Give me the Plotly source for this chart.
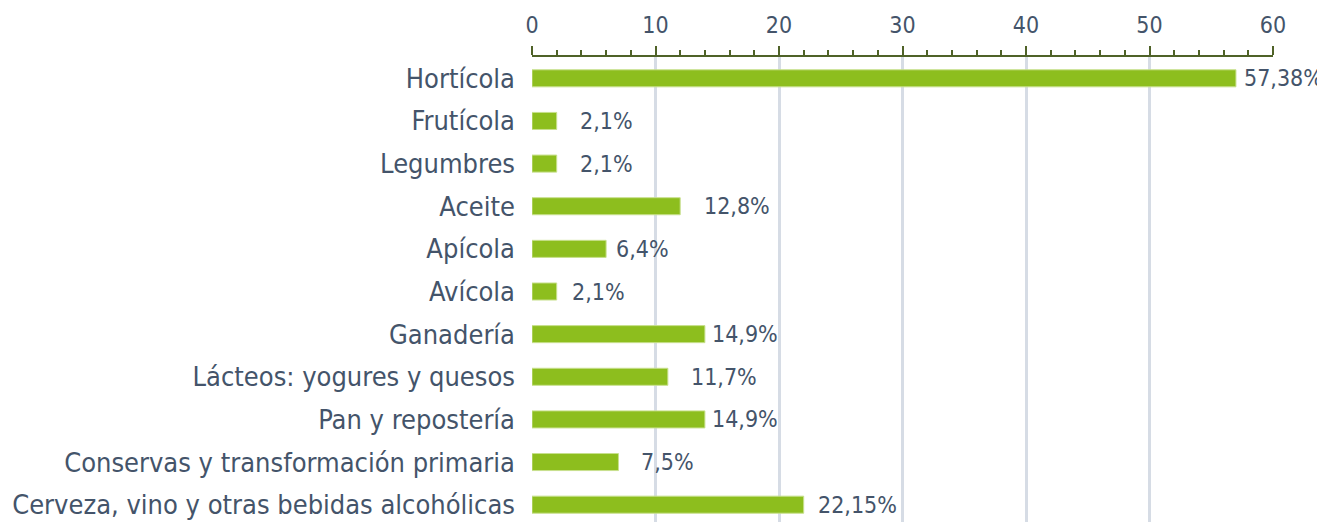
import plotly.graph_objects as go

categories = [
    "Hortícola",
    "Frutícola",
    "Legumbres",
    "Aceite",
    "Apícola",
    "Avícola",
    "Ganadería",
    "Lácteos: yogures y quesos",
    "Pan y repostería",
    "Conservas y transformación primaria",
    "Cerveza, vino y otras bebidas alcohólicas",
]
values = [57, 2, 2, 12, 6, 2, 14, 11, 14, 7, 22]
labels = ["57,38%", "2,1%", "2,1%", "12,8%", "6,4%", "2,1%", "14,9%", "11,7%", "14,9%", "7,5%", "22,15%"]
label_shift = [6, 21, 21, 22, 8, 13, 5, 21, 5, 21, 12]

FONT = "DejaVu Sans Condensed, Liberation Sans Narrow, Roboto, sans-serif"
TEXT = "#44546a"
GREEN = "#8dbe1e"
AXIS = "#4f6228"
GRID = "#d6dce5"

fig = go.Figure()
fig.add_trace(go.Bar(
    x=values, y=categories, orientation="h", width=0.4,
    marker={"color": GREEN, "line": {"color": "#c8e08e", "width": 1}},
    hoverinfo="skip",
))

for cat, val, lab, dx in zip(categories, values, labels, label_shift):
    fig.add_annotation(
        x=val, y=cat, text=lab, showarrow=False, xanchor="left", yanchor="middle",
        xshift=dx, font={"family": FONT, "size": 23, "color": TEXT},
    )

# page body adds an 8px offset, margins account for it
fig.update_layout(
    width=1325, height=522,
    margin={"l": 524, "r": 60, "t": 49, "b": 4, "autoexpand": False},
    paper_bgcolor="white", plot_bgcolor="white",
    showlegend=False,
    font={"family": FONT, "color": TEXT},
)
fig.update_xaxes(
    side="top", range=[0, 60], dtick=10, tick0=0, automargin=False,
    showgrid=True, gridcolor=GRID, gridwidth=3, zeroline=False,
    showline=True, linecolor=AXIS, linewidth=2,
    ticks="outside", ticklen=9, tickwidth=2, tickcolor=AXIS,
    minor={"dtick": 2, "ticks": "outside", "ticklen": 5, "tickwidth": 2, "tickcolor": AXIS, "showgrid": False},
    ticklabelstandoff=4,
    tickfont={"family": FONT, "size": 23, "color": TEXT},
)
fig.update_yaxes(
    range=[len(categories) - 0.5, -0.5], automargin=False,
    showgrid=False, zeroline=False, showline=False, ticks="",
    ticklabelstandoff=16,
    tickfont={"family": FONT, "size": 27, "color": TEXT},
)

fig.write_html("out.html")
